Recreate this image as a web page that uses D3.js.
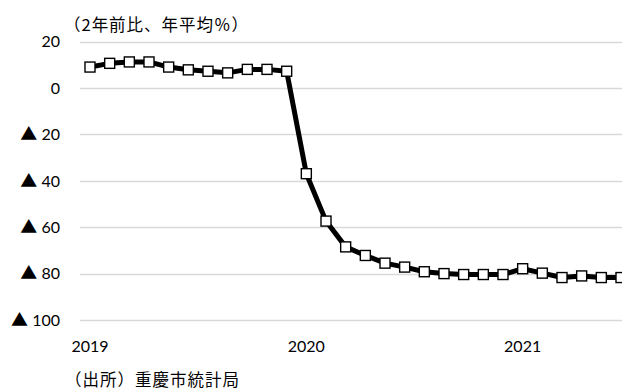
<!DOCTYPE html>
<html>
<head>
<meta charset="utf-8">
<script src="https://cdn.jsdelivr.net/npm/d3@7"></script>
<style>
  html, body { margin: 0; padding: 0; background: #fff; }
  svg { display: block; }
</style>
</head>
<body>
<svg id="chart" width="622" height="391"></svg>
<script>
// Chongqing: 2-year comparison, annual average (%), monthly (Jan–Feb combined)
const periods = [
  "2019-02","2019-03","2019-04","2019-05","2019-06","2019-07","2019-08","2019-09","2019-10","2019-11","2019-12",
  "2020-02","2020-03","2020-04","2020-05","2020-06","2020-07","2020-08","2020-09","2020-10","2020-11","2020-12",
  "2021-02","2021-03","2021-04","2021-05","2021-06","2021-07"
];
const values = [
  9.0, 10.6, 11.2, 11.2, 9.0, 7.8, 7.2, 6.5, 8.0, 8.0, 7.2,
  -36.9, -57.3, -68.4, -72.1, -75.4, -77.1, -79.1, -79.9, -80.3, -80.3, -80.3,
  -77.8, -79.7, -81.6, -80.9, -81.6, -81.6
];
const yTicks = [20, 0, -20, -40, -60, -80, -100];
// year label sits under the first period of each year
const yearLabels = [
  { period: "2019-02", label: "2019" },
  { period: "2020-02", label: "2020" },
  { period: "2021-02", label: "2021" }
];
const titleText = "（2年前比、年平均％）";
const sourceText = "（出所）重慶市統計局";

const svg = d3.select("#chart");
const latin = "Lato, 'Noto Sans', sans-serif";
const cjk = "'Noto Sans CJK JP', sans-serif";

const x = d3.scaleLinear().domain([0, periods.length - 1]).range([90, 621]);
const y = d3.scaleLinear().domain([-100, 20]).range([320.3, 41.5]);
const plotLeft = 80, plotRight = 622;

// horizontal gridlines
svg.append("g")
  .selectAll("line")
  .data(yTicks)
  .join("line")
  .attr("x1", plotLeft).attr("x2", plotRight)
  .attr("y1", d => Math.round(y(d)) + 0.5).attr("y2", d => Math.round(y(d)) + 0.5)
  .attr("stroke", "#d9d9d9").attr("stroke-width", 1.3);

// y-axis labels: negatives are written with ▲
const yAxis = d3.axisLeft(y)
  .tickValues(yTicks)
  .tickSize(0)
  .tickPadding(0)
  .tickFormat(() => "");
const gy = svg.append("g").attr("transform", "translate(60,0)").call(yAxis);
gy.select(".domain").remove();
gy.selectAll(".tick text").each(function (d) {
  const t = d3.select(this)
    .attr("font-family", latin)
    .attr("font-size", 16)
    .attr("fill", "#000");
  if (d < 0) {
    t.append("tspan").attr("font-family", cjk).attr("font-size", 17).text("▲");
    t.append("tspan").text(" " + Math.abs(d));
  } else {
    t.append("tspan").text(String(d));
  }
});

// year labels along the bottom
svg.append("g")
  .selectAll("text")
  .data(yearLabels)
  .join("text")
  .attr("x", d => x(periods.indexOf(d.period)))
  .attr("y", 352)
  .attr("text-anchor", "middle")
  .attr("font-family", latin)
  .attr("font-size", 16)
  .attr("fill", "#000")
  .text(d => d.label);

// the series line
const line = d3.line()
  .x((d, i) => x(i))
  .y(d => y(d))
  .curve(d3.curveLinear);
svg.append("path")
  .datum(values)
  .attr("d", line)
  .attr("fill", "none")
  .attr("stroke", "#000")
  .attr("stroke-width", 5)
  .attr("stroke-linejoin", "round");

// square markers
const ms = 10;
svg.append("g")
  .selectAll("rect")
  .data(values)
  .join("rect")
  .attr("x", (d, i) => x(i) - ms / 2)
  .attr("y", d => y(d) - ms / 2)
  .attr("width", ms).attr("height", ms)
  .attr("fill", "#fff")
  .attr("stroke", "#000")
  .attr("stroke-width", 1.4);

// unit note and source
svg.append("text")
  .attr("x", 64).attr("y", 31)
  .attr("font-family", cjk)
  .attr("font-size", 16.5)
  .attr("textLength", 184)
  .attr("lengthAdjust", "spacing")
  .attr("fill", "#000")
  .text(titleText);

svg.append("text")
  .attr("x", 65).attr("y", 386)
  .attr("font-family", cjk)
  .attr("font-size", 16.5)
  .attr("textLength", 174)
  .attr("lengthAdjust", "spacing")
  .attr("fill", "#000")
  .text(sourceText);
</script>
</body>
</html>
